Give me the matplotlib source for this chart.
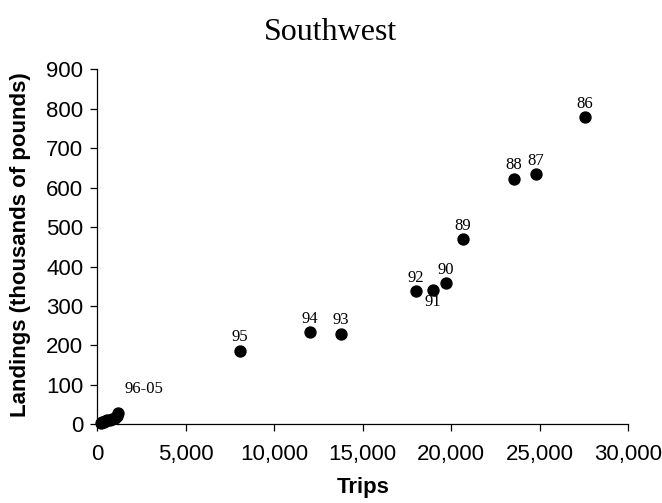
import matplotlib
matplotlib.use("Agg")
import matplotlib.pyplot as plt
from matplotlib.ticker import FuncFormatter

# Labeled years
years = ["86", "87", "88", "89", "90", "91", "92", "93", "94", "95"]
trips = [27530, 24800, 23520, 20660, 19700, 18940, 18020, 13760, 12020, 8060]
landings = [779, 634, 623, 470, 359, 340, 338, 230, 233, 187]

# 1996-2005 cluster
cluster_trips = [1150, 1100, 1000, 850, 700, 550, 450, 350, 280, 200]
cluster_landings = [29, 22, 17, 14, 12, 10, 8, 6, 5, 3]
cluster_label = "96-05"

title = "Southwest"
xlabel = "Trips"
ylabel = "Landings (thousands of pounds)"
xticks = [0, 5000, 10000, 15000, 20000, 25000, 30000]
yticks = [0, 100, 200, 300, 400, 500, 600, 700, 800, 900]

fig = plt.figure(figsize=(6.62, 5.03), dpi=100)
ax = fig.add_axes([0.147, 0.1565, 0.802, 0.7055])

ax.plot(trips, landings, 'o', color='black', markersize=7.9, clip_on=False, zorder=3)
ax.plot(cluster_trips, cluster_landings, 'o', color='black', markersize=7.9, clip_on=False, zorder=3)

serif = ['Liberation Serif', 'DejaVu Serif']
sans = ['Liberation Sans', 'DejaVu Sans']

for yr, x, y in zip(years, trips, landings):
    dy = -8.5 if yr == "91" else 9.5
    ax.annotate(yr, (x, y), xytext=(0, dy), textcoords='offset points',
                ha='center', va='center', fontsize=12, family=serif)

ax.annotate(cluster_label, (cluster_trips[0], cluster_landings[0]), xytext=(19, 17),
            textcoords='offset points', ha='center', va='center', fontsize=12, family=serif)

ax.set_xlim(0, 30000)
ax.set_ylim(0, 900)
ax.set_xticks(xticks)
ax.set_yticks(yticks)
ax.xaxis.set_major_formatter(FuncFormatter(lambda v, p: f"{int(v):,}"))

for s in ['top', 'right']:
    ax.spines[s].set_visible(False)
for s in ['left', 'bottom']:
    ax.spines[s].set_color('black')
    ax.spines[s].set_linewidth(0.9)

ax.tick_params(axis='both', direction='out', length=5, width=0.9, color='black', labelsize=16)
ax.tick_params(axis='x', pad=9)
ax.tick_params(axis='y', pad=5)
for lab in ax.get_xticklabels() + ax.get_yticklabels():
    lab.set_family(sans)

ax.set_xlabel(xlabel, fontsize=16, fontweight='bold', family=sans, labelpad=9)
fig.text(21 / 662, 1 - 245 / 503, ylabel, rotation=90, ha='center', va='center',
         fontsize=16, fontweight='bold', family=sans)
fig.text(0.5, 1 - 40 / 503, title, ha='center', va='baseline', fontsize=23, family=serif)

fig.savefig("out.png", dpi=100)
